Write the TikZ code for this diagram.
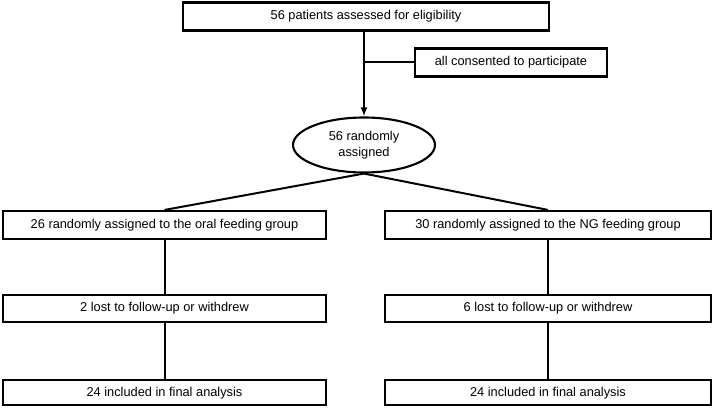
\documentclass[tikz,border=0pt]{standalone}
\usepackage{fontspec}
\setmainfont{Liberation Sans}
\usepackage{tikz}
\usetikzlibrary{arrows.meta,positioning,shapes.geometric}

\begin{document}
\begin{tikzpicture}[
  x=1pt,y=1pt,
  font=\fontsize{12.8}{16.5}\selectfont,
  stagebox/.style={draw=black,line width=2.1pt,fill=white,inner sep=2pt,minimum height=28pt,align=center},
  randnode/.style={draw=black,line width=2.1pt,ellipse,inner sep=0pt,minimum width=142pt,minimum height=55pt,align=center},
  arr/.style={-{Latex[length=9pt,width=7pt]},line width=2pt},
  lnk/.style={line width=2pt}
]
\useasboundingbox (0,0) rectangle (714,412);
\node[stagebox,minimum width=366pt] (elig) at (366,395.5) {56 patients assessed for eligibility};
\node[stagebox,minimum width=192pt] (consent) at (511,349.5) {all consented to participate};
\node[randnode] (rand) at (364,267) {56 randomly\\assigned};
\node[stagebox,minimum width=323pt] (oral) at (164.5,187) {26 randomly assigned to the oral feeding group};
\node[stagebox,minimum width=326pt] (ng) at (548,187) {30 randomly assigned to the NG feeding group};
\node[stagebox,minimum width=323pt,minimum height=27pt,below=54pt of oral] (orallost) {2 lost to follow-up or withdrew};
\node[stagebox,minimum width=326pt,minimum height=27pt,below=54pt of ng] (nglost) {6 lost to follow-up or withdrew};
\node[stagebox,minimum width=323pt,minimum height=25pt,below=56pt of orallost] (oralfinal) {24 included in final analysis};
\node[stagebox,minimum width=326pt,minimum height=25pt,below=56pt of nglost] (ngfinal) {24 included in final analysis};
\coordinate (split) at (rand.north |- consent.west);
\draw[arr] (elig.south -| rand.north) -- (rand.north);
\draw[lnk] (split) -- (consent.west);
\draw[lnk] (rand.south) -- (oral.north);
\draw[lnk] (rand.south) -- (ng.north);
\draw[lnk] (oral) -- (orallost);
\draw[lnk] (orallost) -- (oralfinal);
\draw[lnk] (ng) -- (nglost);
\draw[lnk] (nglost) -- (ngfinal);
\end{tikzpicture}
\end{document}
